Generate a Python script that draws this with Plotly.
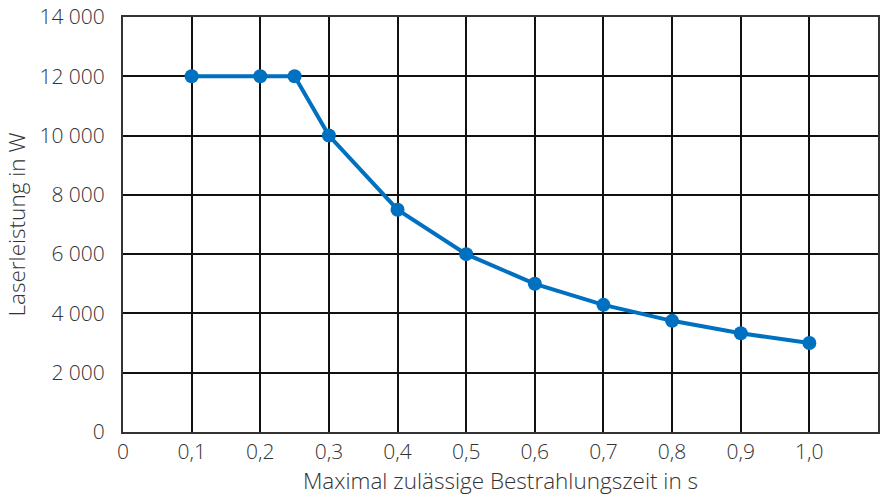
import plotly.graph_objects as go

time_s = [0.1, 0.2, 0.25, 0.3, 0.4, 0.5, 0.6, 0.7, 0.8, 0.9, 1.0]
power_w = [12000, 12000, 12000, 10000, 7500, 6000, 5000, 4290, 3750, 3330, 3000]

x_tickvals = [0, 0.1, 0.2, 0.3, 0.4, 0.5, 0.6, 0.7, 0.8, 0.9, 1.0, 1.1]
x_ticktext = ["0", "0,1", "0,2", "0,3", "0,4", "0,5", "0,6", "0,7", "0,8", "0,9", "1,0", "1,1"]
y_tickvals = [0, 2000, 4000, 6000, 8000, 10000, 12000, 14000]
y_ticktext = ["0", "2 000", "4 000", "6 000", "8 000", "10 000", "12 000", "14 000"]

blue = "#0070C0"
txt = "#333333"
font_fam = "Open Sans, Liberation Sans, Arial, sans-serif"

fig = go.Figure()
fig.add_trace(go.Scatter(
    x=time_s, y=power_w, mode="lines+markers",
    line=dict(color=blue, width=4),
    marker=dict(color=blue, size=14),
    showlegend=False, cliponaxis=False,
))

fig.update_layout(
    width=892, height=497,
    margin=dict(l=123, r=14, t=17, b=65, autoexpand=False),
    paper_bgcolor="white", plot_bgcolor="white",
    font=dict(family=font_fam, color=txt, size=21, weight=300),
)
fig.update_xaxes(
    range=[0, 1.1], tickvals=x_tickvals, ticktext=x_ticktext,
    tickfont=dict(family=font_fam, size=21, color=txt, weight=300),
    showgrid=True, gridcolor="#111111", gridwidth=1.5,
    showline=True, linecolor="#333333", linewidth=2, mirror=True,
    ticks="", zeroline=False, ticklabelstandoff=0,
    title=dict(text="Maximal zulässige Bestrahlungszeit in s",
               font=dict(family=font_fam, size=22.5, color=txt, weight=300), standoff=2),
)
fig.update_yaxes(
    range=[0, 14000], tickvals=y_tickvals, ticktext=y_ticktext,
    tickfont=dict(family=font_fam, size=21, color=txt, weight=300),
    showgrid=True, gridcolor="#111111", gridwidth=1.5,
    showline=True, linecolor="#333333", linewidth=2, mirror=True,
    ticks="", zeroline=False, ticklabelstandoff=12,
    title=dict(text="Laserleistung in W",
               font=dict(family=font_fam, size=22.5, color=txt, weight=300), standoff=8),
)

fig.write_html("out.html", config={"displayModeBar": False},
               post_script="document.body.style.margin='0';")
